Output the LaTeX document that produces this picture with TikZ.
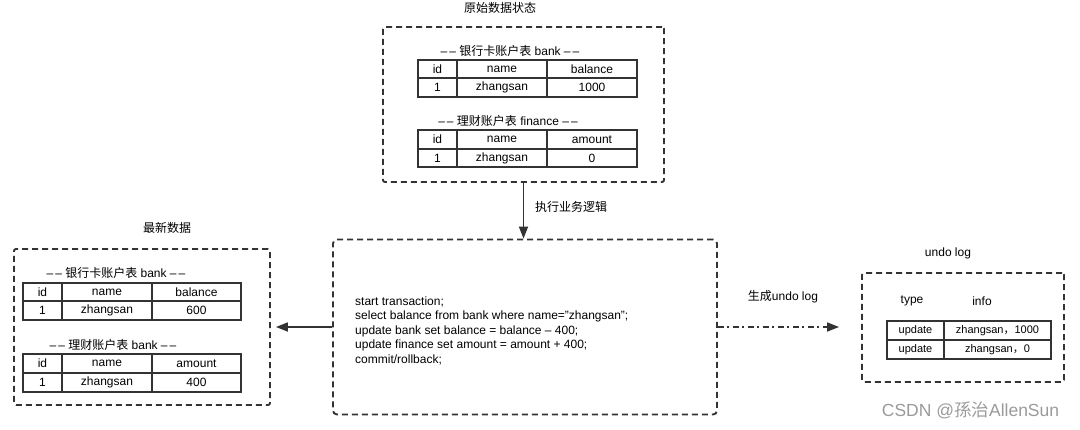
\documentclass[tikz,border=0pt]{standalone}
\usepackage{fontspec}
\setmainfont{Liberation Sans}
\newfontfamily\cjk{Noto Sans CJK SC}
\usetikzlibrary{arrows.meta}
\definecolor{linha}{HTML}{333333}
\definecolor{marca}{HTML}{9A9A9A}
\newcommand{\fonteA}{\fontsize{12}{14.5}\selectfont}
\newcommand{\fonteB}{\fontsize{11}{13}\selectfont}
\newcommand{\fonteC}{\fontsize{17.5}{20}\selectfont}
\newcommand{\tracos}{--\,--}

\begin{document}
\begin{tikzpicture}[x=1pt, y=-1pt,
    dashbox/.style={draw=linha, line width=1.9pt, dash pattern=on 6pt off 4pt, rounded corners=2pt, inner sep=0pt},
    tabline/.style={draw=linha, line width=1.5pt},
    txt/.style={inner sep=0pt, text=black, font=\fonteA},
    txtB/.style={inner sep=0pt, text=black, font=\fonteB},
    seta/.style={draw=linha, line width=1.7pt, -{Triangle[length=12pt, width=9pt]}}]
  \useasboundingbox (0,0) rectangle (1080,429);

  % caixa 0: estado original
  \node[dashbox, minimum width=281pt, minimum height=155pt] (orig) at (523.5,104.5) {};
  \node[txt] (tOrig) at (500,8) {\cjk 原始数据状态};

  % tabela bank (original)
  \node[txt] (lBank0) at (510,51) {\tracos{} {\cjk 银行卡账户表} bank \tracos};
  \draw[tabline] (418,60) rectangle (637,97);
  \draw[tabline] (418,78) -- (637,78) (457,60) -- (457,97) (547,60) -- (547,97);
  \node[txt] (b0id) at (437.5,69) {id};
  \node[txt] (b0nm) at (502,69) {name};
  \node[txt] (b0bl) at (592,69) {balance};
  \node[txt] (b0v1) at (437.5,87.5) {1};
  \node[txt] (b0v2) at (502,87.5) {zhangsan};
  \node[txt] (b0v3) at (592,87.5) {1000};

  % tabela finance (original)
  \node[txt] (lFin0) at (508,121) {\tracos{} {\cjk 理财账户表} finance \tracos};
  \draw[tabline] (418,130) rectangle (637,167);
  \draw[tabline] (418,149) -- (637,149) (457,130) -- (457,167) (547,130) -- (547,167);
  \node[txt] (f0id) at (437.5,139.5) {id};
  \node[txt] (f0nm) at (502,139.5) {name};
  \node[txt] (f0am) at (592,139.5) {amount};
  \node[txt] (f0v1) at (437.5,158) {1};
  \node[txt] (f0v2) at (502,158) {zhangsan};
  \node[txt] (f0v3) at (592,158) {0};

  % caixa 1: transacao
  \node[dashbox, rounded corners=4pt, minimum width=384pt, minimum height=175pt] (exec) at (525,327) {};
  \node[txt, anchor=west, align=left] (code) at (355,330.5) {start transaction;\\
    select balance from bank where name="zhangsan";\\
    update bank set balance = balance -- 400;\\
    update finance set amount = amount + 400;\\
    commit/rollback;};

  % caixa 2: dados novos
  \node[dashbox, minimum width=256pt, minimum height=156pt] (newd) at (142,327) {};
  \node[txt] (tNew) at (167,228) {\cjk 最新数据};

  % tabela bank (nova)
  \node[txt] (lBank1) at (116,273) {\tracos{} {\cjk 银行卡账户表} bank \tracos};
  \draw[tabline] (23,283) rectangle (241,320);
  \draw[tabline] (23,301) -- (241,301) (62,283) -- (62,320) (152,283) -- (152,320);
  \node[txt] (b1id) at (42.5,292) {id};
  \node[txt] (b1nm) at (107,292) {name};
  \node[txt] (b1bl) at (196.5,292) {balance};
  \node[txt] (b1v1) at (42.5,310.5) {1};
  \node[txt] (b1v2) at (107,310.5) {zhangsan};
  \node[txt] (b1v3) at (196.5,310.5) {600};

  % tabela finance (nova)
  \node[txt] (lFin1) at (113,345) {\tracos{} {\cjk 理财账户表} bank \tracos};
  \draw[tabline] (23,354) rectangle (241,392);
  \draw[tabline] (23,373) -- (241,373) (62,354) -- (62,392) (152,354) -- (152,392);
  \node[txt] (f1id) at (42.5,363.5) {id};
  \node[txt] (f1nm) at (107,363.5) {name};
  \node[txt] (f1am) at (196.5,363.5) {amount};
  \node[txt] (f1v1) at (42.5,382.5) {1};
  \node[txt] (f1v2) at (107,382.5) {zhangsan};
  \node[txt] (f1v3) at (196.5,382.5) {400};

  % caixa 3: undo log
  \node[dashbox, minimum width=202pt, minimum height=109pt] (undo) at (963,327.5) {};
  \node[txt] (tUndo) at (948,253) {undo log};
  \node[txt] (hType) at (912,301) {type};
  \node[txt] (hInfo) at (982,301) {info};
  \draw[tabline] (887,321) rectangle (1051,359);
  \draw[tabline] (887,340) -- (1051,340) (944,321) -- (944,359);
  \node[txtB] (u1tp) at (915.5,330.5) {update};
  \node[txtB] (u1in) at (997.5,330.5) {zhangsan{\cjk ，}1000};
  \node[txtB] (u2tp) at (915.5,349.5) {update};
  \node[txtB] (u2in) at (997.5,349.5) {zhangsan{\cjk ，}0};

  % setas
  \draw[seta] (orig.south) -- (orig.south |- exec.north);
  \node[txt, anchor=west] (lExec) at (535,207) {\cjk 执行业务逻辑};
  \draw[seta] (exec.west) -- ([xshift=5pt]newd.east);
  \draw[seta, dash pattern=on 6pt off 3.5pt on 2pt off 3.5pt] (exec.east) -- ([xshift=-22pt]undo.west |- exec.east);
  \node[txt] (lGen) at (783,297) {{\cjk 生成}undo log};

  % marca
  \node[inner sep=0pt, text=marca, font=\fonteC] (wm) at (970.5,410) {CSDN @{\cjk 孫治}AllenSun};
\end{tikzpicture}
\end{document}
